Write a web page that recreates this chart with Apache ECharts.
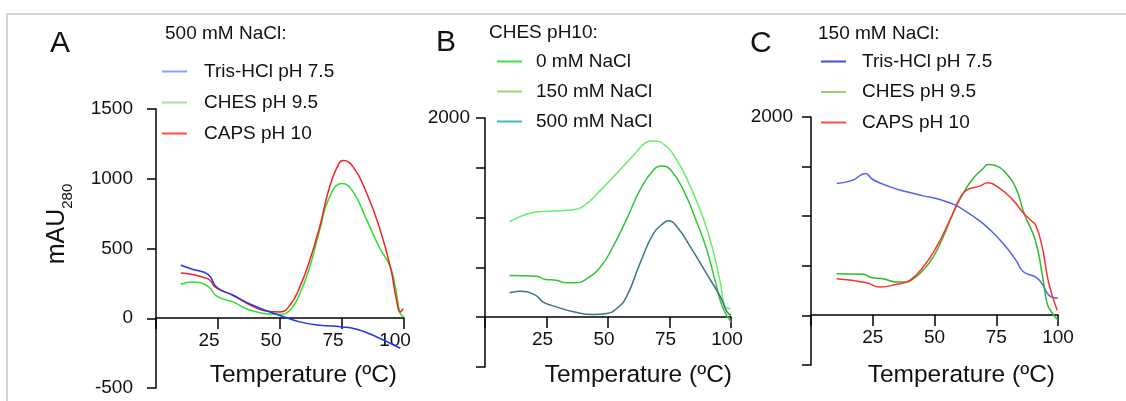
<!DOCTYPE html>
<html>
<head>
<meta charset="utf-8">
<script src="https://cdn.jsdelivr.net/npm/echarts@6/dist/echarts.min.js"></script>
<style>
  html, body { margin: 0; padding: 0; background: #fff; }
  #frame { position: absolute; left: 6px; top: 13px; width: 1200px; height: 500px;
           border-top: 2px solid #d6d6d6; border-left: 2px solid #d6d6d6; }
  #main { position: absolute; left: 0; top: 0; width: 1126px; height: 401px; }
</style>
</head>
<body>
<div id="frame"></div>
<div id="main"></div>
<script>
// panel A: 500 mM NaCl, different buffers
var aTrisT = [10, 15, 21, 24.5, 31, 39, 50, 58, 66, 75, 81, 89, 98.5];
var aTris = [380, 350, 315, 222, 165, 93, 20, -26, -50, -62, -79, -134, -215];
var aChesT = [10, 15, 21, 24.5, 31, 39, 50, 54, 58, 62, 66, 70, 75, 79.5, 85, 90, 94.5, 96.5, 98.5, 100];
var aChes = [244, 260, 229, 158, 117, 52, 29, 57, 177, 368, 631, 870, 966, 906, 703, 511, 368, 225, 33, 10];
var aCapsT = [10, 21, 24, 31, 39, 45, 50, 54, 58, 62, 66, 70, 74, 75.5, 79.5, 85, 90, 94.5, 97, 98.5, 99.7];
var aCaps = [325, 282, 222, 165, 86, 50, 45, 93, 225, 416, 655, 941, 1115, 1130, 1085, 894, 655, 368, 129, 45, 69];

// panel B: CHES pH10, different NaCl
var b0T = [10, 21, 24.5, 29, 33, 37, 41.5, 47, 52, 58, 63, 68.5, 72, 75.5, 81, 86, 90, 93.5, 96.5, 100];
var b0 = [419, 412, 379, 372, 345, 345, 389, 506, 707, 1008, 1276, 1477, 1518, 1477, 1259, 958, 690, 372, 104, -47];
var b150T = [10, 21.5, 29, 36.5, 41.5, 47, 53.5, 60.5, 65, 68.5, 72.5, 78, 83.5, 89, 93, 95.7, 97.7, 99.7];
var b150 = [958, 1058, 1068, 1082, 1143, 1276, 1444, 1628, 1745, 1769, 1739, 1578, 1310, 975, 640, 339, 104, 87];
var b500T = [10, 14, 20.5, 23.5, 29, 36, 44, 49.5, 53.5, 57.5, 63, 68.5, 72.5, 74.5, 78, 83.5, 90, 95.7, 98.4, 100];
var b500 = [245, 261, 221, 154, 104, 54, 27, 37, 87, 204, 540, 841, 942, 968, 908, 707, 439, 204, 54, 20];

// panel C: 150 mM NaCl, different buffers
var cTrisT = [10.4, 17, 22, 25, 32, 38.7, 45.4, 52.2, 58.5, 63, 67, 72.2, 78, 83, 86, 91, 93.5, 96.3, 98.5, 100];
var cTris = [1330, 1364, 1431, 1370, 1296, 1246, 1205, 1168, 1111, 1043, 976, 870, 720, 555, 440, 387, 320, 202, 178, 175];
var cChesT = [10.4, 21.2, 24.5, 29.2, 34.6, 38.7, 41.4, 45.4, 49.5, 53.5, 57.5, 61.6, 65.6, 69.7, 71.5, 75, 79, 83, 86.3, 90.8, 93.7, 95.6, 97.5, 100];
var cChes = [421, 414, 381, 370, 337, 337, 370, 455, 589, 791, 1027, 1229, 1380, 1481, 1522, 1509, 1431, 1280, 1027, 758, 400, 121, 30, -50];
var cCapsT = [10.4, 22.5, 27.8, 34.6, 40, 45.4, 50.8, 56.2, 60.2, 63, 68.3, 71.5, 76.4, 81.8, 85.6, 89, 91, 93.6, 96.3, 99.7];
var cCaps = [370, 330, 286, 313, 353, 488, 690, 960, 1178, 1262, 1303, 1336, 1280, 1162, 1043, 960, 909, 690, 320, 50];

var xTicks = [25, 50, 75, 100];

var font = 'Liberation Sans, Arial, sans-serif';

function pairs(t, v) {
    return t.map(function (x, i) { return [x, v[i]]; });
}

function curve(name, idx, t, v, color) {
    return {
        name: name, type: 'line', xAxisIndex: idx, yAxisIndex: idx,
        data: pairs(t, v), smooth: 0.5, symbol: 'none',
        lineStyle: { color: color, width: 1.5 }, itemStyle: { color: color }
    };
}

// hidden x axis that the curves use
function dataX(idx) {
    return { gridIndex: idx, type: 'value', min: 0, max: 100, show: false };
}

// visible temperature axis, drawn on a second grid whose bottom sits on y = 0
function tempX(idx, labelPad) {
    return {
        gridIndex: idx, type: 'value', min: 0, max: 100, interval: 25,
        axisLine: { onZero: false, lineStyle: { color: '#000', width: 1.5 } },
        axisTick: { length: 11, lineStyle: { color: '#000', width: 1.5 } },
        splitLine: { show: false },
        axisLabel: {
            fontSize: 19, color: '#111', margin: 13, padding: labelPad,
            formatter: function (v) { return xTicks.indexOf(v) >= 0 ? String(v) : ''; }
        }
    };
}

function yAxis(idx, max, margin, onlyTop) {
    return {
        gridIndex: idx, type: 'value', min: -500, max: max, interval: 500,
        axisLine: { show: true, onZero: false, lineStyle: { color: '#000', width: 1.5 } },
        axisTick: { show: true, length: 9, lineStyle: { color: '#000', width: 1.5 } },
        splitLine: { show: false },
        axisLabel: {
            fontSize: 19, color: '#111', margin: margin,
            formatter: function (v) { return onlyTop ? (v === max ? String(v) : '') : String(v); }
        }
    };
}

function hiddenY(idx) {
    return { gridIndex: idx, type: 'value', min: 0, max: 1, show: false };
}

function legend(left, top, gap, textPad, items) {
    return {
        orient: 'vertical', left: left, top: top, padding: 0,
        itemWidth: 25, itemHeight: 2, itemGap: gap, icon: 'rect',
        selectedMode: false,
        textStyle: { fontSize: 19, lineHeight: 21, color: '#111', padding: [6, 0, 0, textPad] },
        data: items
    };
}

function label(text, x, y, size, align) {
    return {
        type: 'text', x: x, y: y,
        style: { text: text, fontSize: size, fontFamily: font, fill: '#111', align: align || 'left', verticalAlign: 'middle' }
    };
}

var chart = echarts.init(document.getElementById('main'));

chart.setOption({
    animation: false,
    textStyle: { fontFamily: font },
    grid: [
        { left: 156, top: 109, width: 248, height: 279, outerBoundsMode: 'none' },
        { left: 485, top: 118, width: 246, height: 249, outerBoundsMode: 'none' },
        { left: 811, top: 117, width: 247, height: 248, outerBoundsMode: 'none' },
        { left: 156, top: 109, width: 248, height: 209, outerBoundsMode: 'none' },
        { left: 485, top: 118, width: 246, height: 199, outerBoundsMode: 'none' },
        { left: 811, top: 117, width: 247, height: 198, outerBoundsMode: 'none' }
    ],
    xAxis: [dataX(0), dataX(1), dataX(2), tempX(3, [0, 18, 0, 0]), tempX(4, [0, 8, 0, 0]), tempX(5, 0)],
    yAxis: [yAxis(0, 1500, 23, false), yAxis(1, 2000, 15, true), yAxis(2, 2000, 18, true), hiddenY(3), hiddenY(4), hiddenY(5)],
    legend: [
        legend(162, 58, 4, 12, [
            { name: 'Tris-HCl pH 7.5', itemStyle: { color: '#8a9cff' } },
            { name: 'CHES pH 9.5', itemStyle: { color: '#a8e0a0' } },
            { name: 'CAPS pH 10', itemStyle: { color: '#ff4a4a' } }
        ]),
        legend(497, 48, 3, 9, [
            { name: '0 mM NaCl', itemStyle: { color: '#3de03d' } },
            { name: '150 mM NaCl', itemStyle: { color: '#9ad870' } },
            { name: '500 mM NaCl', itemStyle: { color: '#3cb8c0' } }
        ]),
        legend(821, 48, 3.5, 11, [
            { name: 'Tris-HCl pH 7.5', itemStyle: { color: '#3a4fd0' } },
            { name: 'CHES pH 9.5', itemStyle: { color: '#9fd070' } },
            { name: 'CAPS pH 10', itemStyle: { color: '#ff4a4a' } }
        ])
    ],
    graphic: [
        label('A', 50, 44, 30),
        label('B', 436, 43, 30),
        label('C', 750, 44, 30),
        label('500 mM NaCl:', 165, 34, 19),
        label('CHES pH10:', 489, 33, 19),
        label('150 mM NaCl:', 818, 34, 19),
        label('Temperature (ºC)', 397, 375, 24.5, 'right'),
        label('Temperature (ºC)', 732, 375, 24.5, 'right'),
        label('Temperature (ºC)', 1055, 375, 24.5, 'right'),
        {
            type: 'text', x: 60, y: 224, rotation: Math.PI / 2,
            style: {
                text: '{a|mAU}{b|280}', fill: '#111', align: 'center', verticalAlign: 'middle',
                rich: {
                    a: { fontSize: 25, fontFamily: font, padding: [0, 0, 5, 0] },
                    b: { fontSize: 15, fontFamily: font, verticalAlign: 'bottom' }
                }
            }
        }
    ],
    series: [
        curve('CHES pH 9.5', 0, aChesT, aChes, '#2ee02e'),
        curve('CAPS pH 10', 0, aCapsT, aCaps, '#f52020'),
        curve('Tris-HCl pH 7.5', 0, aTrisT, aTris, '#2038f0'),
        curve('150 mM NaCl', 1, b150T, b150, '#66ee66'),
        curve('0 mM NaCl', 1, b0T, b0, '#30c830'),
        curve('500 mM NaCl', 1, b500T, b500, '#3a7486'),
        curve('Tris-HCl pH 7.5', 2, cTrisT, cTris, '#5062ee'),
        curve('CHES pH 9.5', 2, cChesT, cChes, '#30b830'),
        curve('CAPS pH 10', 2, cCapsT, cCaps, '#ff3030')
    ]
});
</script>
</body>
</html>
